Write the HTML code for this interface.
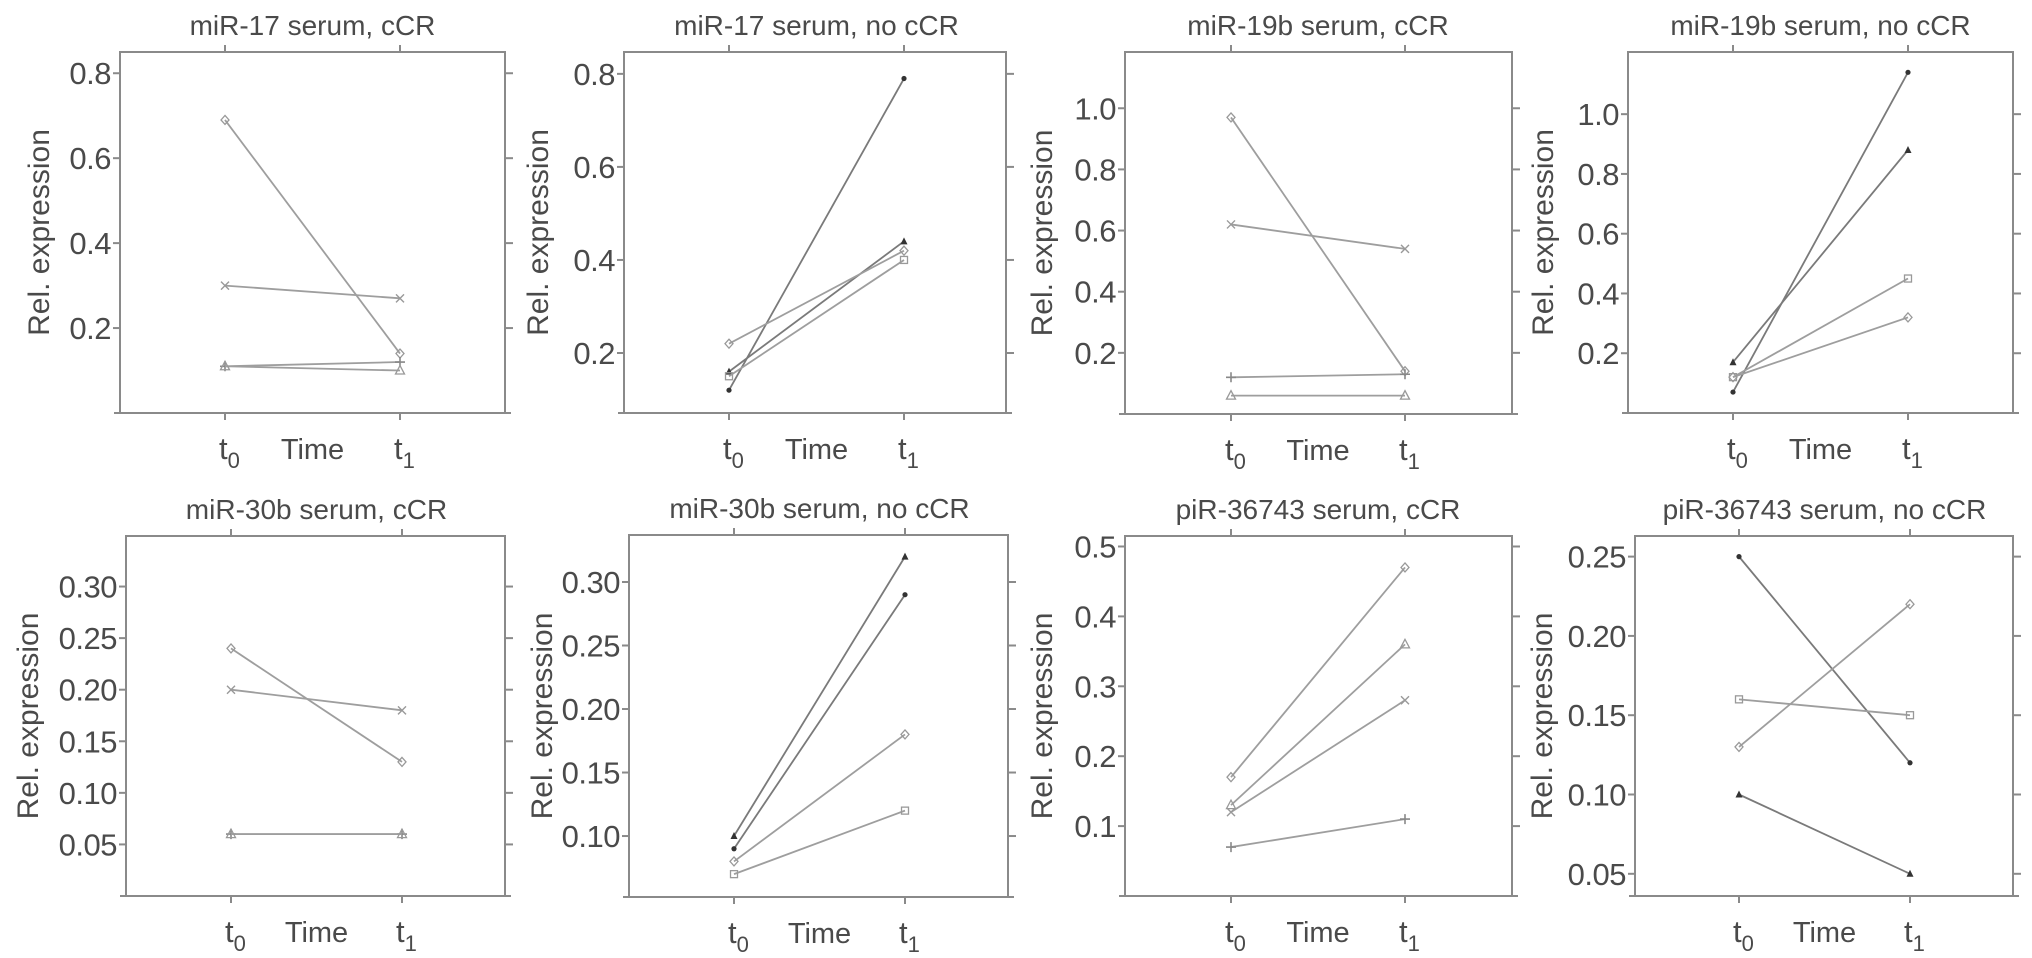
<!DOCTYPE html>
<html><head><meta charset="utf-8"><style>
html,body{margin:0;padding:0;background:#fff;}
svg{display:block;font-family:"Liberation Sans",sans-serif;}
</style></head><body>
<svg id="fig" width="2032" height="958" viewBox="0 0 2032 958" xmlns="http://www.w3.org/2000/svg"></svg>
<script>
// ---- data ----
const titles = ["miR-17 serum, cCR","miR-17 serum, no cCR","miR-19b serum, cCR","miR-19b serum, no cCR",
  "miR-30b serum, cCR","miR-30b serum, no cCR","piR-36743 serum, cCR","piR-36743 serum, no cCR"];
const timeCategories = ["t0","t1"];
const p1Series = [[0.69,0.14],[0.30,0.27],[0.11,0.12],[0.11,0.10]];
const p2Series = [[0.12,0.79],[0.16,0.44],[0.22,0.42],[0.15,0.40]];
const p3Series = [[0.97,0.14],[0.62,0.54],[0.12,0.13],[0.06,0.06]];
const p4Series = [[0.07,1.14],[0.17,0.88],[0.12,0.45],[0.12,0.32]];
const p5Series = [[0.24,0.13],[0.20,0.18],[0.06,0.06],[0.06,0.06]];
const p6Series = [[0.09,0.29],[0.10,0.32],[0.08,0.18],[0.07,0.12]];
const p7Series = [[0.17,0.47],[0.13,0.36],[0.12,0.28],[0.07,0.11]];
const p8Series = [[0.25,0.12],[0.13,0.22],[0.16,0.15],[0.10,0.05]];
const p1Markers = ["diamond","x","plus","triangle"];
const p2Markers = ["dot","ftri","diamond","square"];
const p3Markers = ["diamond","x","plus","triangle"];
const p4Markers = ["dot","ftri","square","diamond"];
const p5Markers = ["diamond","x","plus","triangle"];
const p6Markers = ["dot","ftri","diamond","square"];
const p7Markers = ["diamond","triangle","x","plus"];
const p8Markers = ["dot","diamond","square","ftri"];
const p1Ticks = ["0.2","0.4","0.6","0.8"];
const p2Ticks = ["0.2","0.4","0.6","0.8"];
const p3Ticks = ["0.2","0.4","0.6","0.8","1.0"];
const p4Ticks = ["0.2","0.4","0.6","0.8","1.0"];
const p5Ticks = ["0.05","0.10","0.15","0.20","0.25","0.30"];
const p6Ticks = ["0.10","0.15","0.20","0.25","0.30"];
const p7Ticks = ["0.1","0.2","0.3","0.4","0.5"];
const p8Ticks = ["0.05","0.10","0.15","0.20","0.25"];
const p1Y = [0.0, 0.85]; const p2Y = [0.071, 0.847]; const p3Y = [0.0, 1.184]; const p4Y = [0.0, 1.208];
const p5Y = [0.0, 0.349]; const p6Y = [0.052, 0.337]; const p7Y = [0.0, 0.515]; const p8Y = [0.036, 0.263];

const series = [p1Series,p2Series,p3Series,p4Series,p5Series,p6Series,p7Series,p8Series];
const markers = [p1Markers,p2Markers,p3Markers,p4Markers,p5Markers,p6Markers,p7Markers,p8Markers];
const ticks = [p1Ticks,p2Ticks,p3Ticks,p4Ticks,p5Ticks,p6Ticks,p7Ticks,p8Ticks];
const ydom = [p1Y,p2Y,p3Y,p4Y,p5Y,p6Y,p7Y,p8Y];
// layout (pixels)
const boxes = [
 [120,52,505,413],[624,52,1006,413],[1125,52,1512,414],[1628,52,2013,413],
 [126,536,505,896],[629,535,1008,897],[1125,536,1512,896],[1635,536,2013,896]];
const tx = [[225,400],[729,904],[1231,1405],[1733,1908],[231,402],[734,905],[1231,1405],[1739,1910]];
const ytOff = [71,76,73,75,88,77,73,83];

const NS="http://www.w3.org/2000/svg";
const svg=document.getElementById('fig');
function mk(tag,attrs,parent){const e=document.createElementNS(NS,tag);for(const k in attrs)e.setAttribute(k,attrs[k]);(parent||svg).appendChild(e);return e;}
const AX="#8a8a8a", TXT="#4a4a4a";

for(let p=0;p<8;p++){
  const [L,T,R,B]=boxes[p];
  const g=mk('g',{});
  
  
  const y0=ydom[p][0], y1=ydom[p][1];
  const ys=v=>B-(v-y0)/(y1-y0)*(B-T);
  const xs=i=>tx[p][i];
  const fr=mk('rect',{x:L,y:T,width:R-L,height:B-T,fill:'none',stroke:AX,'stroke-width':2},g);
  
  
  mk('line',{x1:L-6,y1:B,x2:R+6,y2:B,stroke:AX,'stroke-width':2},g);
  for(let i=0;i<2;i++){
    mk('line',{x1:xs(i),y1:T,x2:xs(i),y2:T-7,stroke:AX,'stroke-width':2},g);
    mk('line',{x1:xs(i),y1:B,x2:xs(i),y2:B+7,stroke:AX,'stroke-width':2},g);
  }
  ticks[p].forEach(t=>{
    const y=ys(parseFloat(t));
    mk('line',{x1:L,y1:y,x2:L-7,y2:y,stroke:AX,'stroke-width':2},g);
    mk('line',{x1:R,y1:y,x2:R+8,y2:y,stroke:AX,'stroke-width':2},g);
    const tl=mk('text',{x:L-9,y:y+11,'text-anchor':'end','font-size':31,fill:TXT,'letter-spacing':-0.5},g);
    tl.textContent=t;
    
    
  });
  const tt=mk('text',{x:(xs(0)+xs(1))/2,y:T-17,'text-anchor':'middle','font-size':28,fill:TXT},g);
  tt.textContent=titles[p];
  
  
  const yt=mk('text',{x:0,y:0,'text-anchor':'middle','font-size':30,fill:TXT,transform:`translate(${L-ytOff[p]},${(T+B)/2}) rotate(-90)`},g);
  yt.textContent="Rel. expression";
  
  
  const lb=B+46;
  for(let i=0;i<2;i++){
    const xl=mk('text',{x:xs(i)-6,y:lb,'font-size':31,fill:TXT},g);
    xl.innerHTML='t<tspan font-size="22" dy="9">'+(i)+'</tspan>';
    
    
  }
  const tm=mk('text',{x:(xs(0)+xs(1))/2,y:lb,'text-anchor':'middle','font-size':29,fill:TXT},g);
  tm.textContent="Time";
  
  
  series[p].forEach((s,si)=>{
    const m=markers[p][si];
    const dark=(m==='dot'||m==='ftri');
    const col=dark?'#7a7a7a':'#9e9e9e';
    const ln=mk('line',{x1:xs(0),y1:ys(s[0]),x2:xs(1),y2:ys(s[1]),stroke:col,'stroke-width':1.8},g);
    
    
    s.forEach((v,i)=>{
      const x=xs(i), y=ys(v);
      let e;
      if(m==='dot') e=mk('circle',{cx:x,cy:y,r:2.6,fill:'#333'},g);
      else if(m==='ftri') e=mk('polygon',{points:`${x},${y-4} ${x-3.5},${y+3} ${x+3.5},${y+3}`,fill:'#333'},g);
      else if(m==='triangle') e=mk('polygon',{points:`${x},${y-5} ${x-4.5},${y+3.5} ${x+4.5},${y+3.5}`,fill:'none',stroke:'#999','stroke-width':1.3},g);
      else if(m==='diamond') e=mk('polygon',{points:`${x},${y-4.5} ${x+4},${y} ${x},${y+4.5} ${x-4},${y}`,fill:'none',stroke:'#999','stroke-width':1.3},g);
      else if(m==='square') e=mk('rect',{x:x-3.5,y:y-3.5,width:7,height:7,fill:'none',stroke:'#999','stroke-width':1.3},g);
      else if(m==='x') e=mk('path',{d:`M${x-4},${y-4}L${x+4},${y+4}M${x-4},${y+4}L${x+4},${y-4}`,stroke:'#999','stroke-width':1.4},g);
      else e=mk('path',{d:`M${x-5},${y}L${x+5},${y}M${x},${y-5}L${x},${y+5}`,stroke:'#888','stroke-width':1.6},g);
      
      
    });
  });
}
</script>
</body></html>
